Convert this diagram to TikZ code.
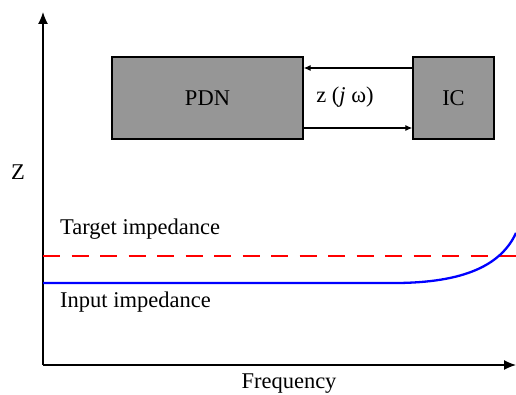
\documentclass[tikz,border=0pt]{standalone}
\usepackage{fontspec}
\setmainfont{Liberation Serif}
\usetikzlibrary{arrows.meta}
\begin{document}
\begin{tikzpicture}[x=1pt,y=-1pt,
  every node/.style={font=\fontsize{22.5}{26}\selectfont, inner sep=0pt},
  blockbox/.style={draw=black, line width=1.3pt, fill=boxgray},
  axisline/.style={line width=1.3pt, -{Latex[length=12pt,width=10pt]}},
  conn/.style={line width=1.2pt, -{Latex[length=7pt,width=6pt]}},
  ]
\definecolor{boxgray}{HTML}{969696}
\useasboundingbox (0,0) rectangle (516,395);
% axes
\coordinate (O) at (43,365);
\coordinate (ytop) at (43,12);
\coordinate (xend) at (516,365);
\draw[axisline] (O) -- (ytop);
\draw[axisline] (O) -- (xend);
% boxes
\node[blockbox, minimum width=191pt, minimum height=82pt] (pdn) at (207.5,98) {PDN};
\node[blockbox, minimum width=81pt, minimum height=82pt] (ic) at (453.5,98) {IC};
\draw[conn] (ic.west |- 0,68) -- (pdn.east |- 0,68);
\draw[conn] (pdn.east |- 0,128) -- (ic.west |- 0,128);
\node (zl) at (345,97) {z (\textit{j} ω)};
% labels
\node (zlab) at (18,172) {Z};
\node[anchor=west] (tgt) at (60,229) {Target impedance};
\node[anchor=west] (inp) at (60,302) {Input impedance};
\node (freq) at (289,384) {Frequency};
% curves
\draw[red, line width=2.3pt, dash pattern=on 17pt off 11.5pt] (43,256) -- (516,256);
\draw[blue, line width=2.3pt] (43,283) -- (385,283) .. controls (450,284) and (498,272) .. (516,233);
\end{tikzpicture}
\end{document}
